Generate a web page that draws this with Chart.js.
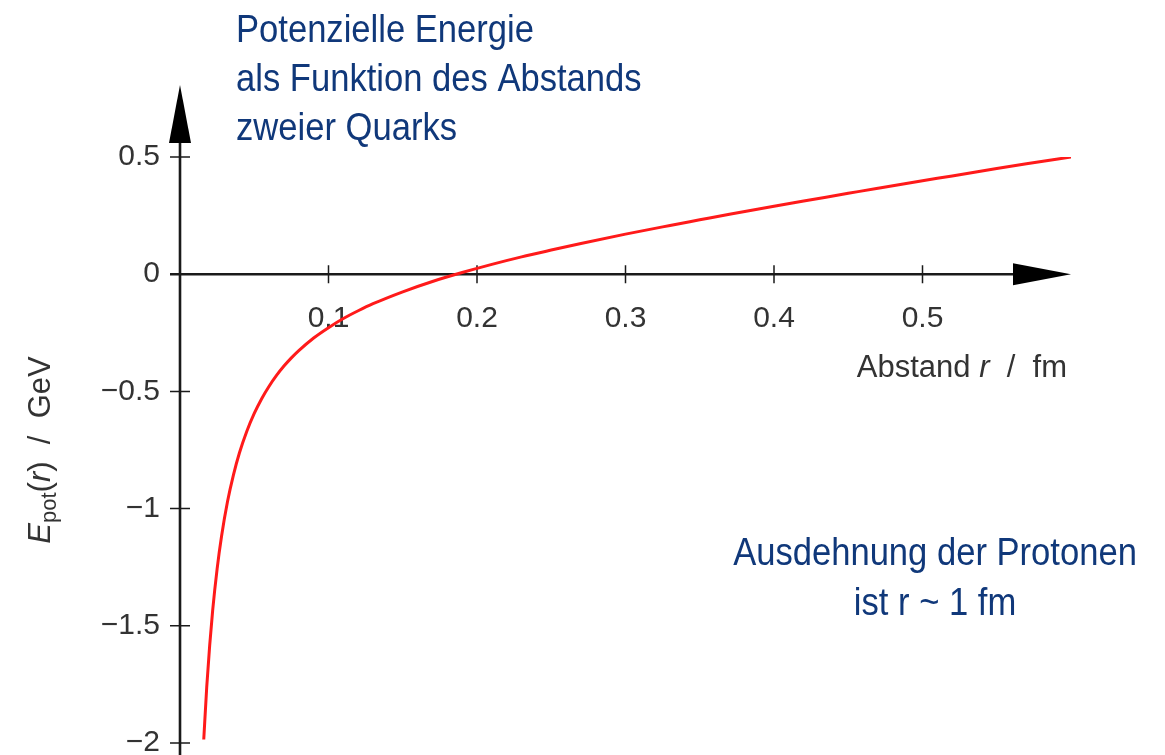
<!DOCTYPE html>
<html>
<head>
<meta charset="utf-8">
<script src="https://cdn.jsdelivr.net/npm/chart.js@4.4.0/dist/chart.umd.min.js"></script>
<style>
  html, body { margin:0; padding:0; background:#fff; }
  #chart { display:block; }
</style>
</head>
<body>
<canvas id="chart" width="1165" height="755"></canvas>
<script>
// distance r in fm, potential energy in GeV
const rValues = [0.016, 0.018, 0.02, 0.022, 0.025, 0.028, 0.032, 0.036, 0.04, 0.045, 0.05, 0.055,
                 0.06, 0.065, 0.07, 0.075, 0.08, 0.09, 0.1, 0.11, 0.12, 0.13, 0.15, 0.17,
                 0.19, 0.21, 0.23, 0.25, 0.27, 0.3, 0.33, 0.35, 0.37, 0.4, 0.42, 0.45,
                 0.47, 0.5, 0.52, 0.55, 0.57, 0.6];
const ePot    = [-1.985, -1.761, -1.582, -1.434, -1.257, -1.117, -0.970, -0.856, -0.763, -0.670, -0.594, -0.531,
                 -0.478, -0.432, -0.392, -0.357, -0.326, -0.272, -0.228, -0.189, -0.156, -0.126, -0.075, -0.031,
                 0.007, 0.042, 0.074, 0.103, 0.131, 0.171, 0.208, 0.232, 0.256, 0.290, 0.312, 0.345,
                 0.367, 0.399, 0.419, 0.451, 0.471, 0.50];

const xTickValues = [0.1, 0.2, 0.3, 0.4, 0.5];
const xTickLabels = ['0.1', '0.2', '0.3', '0.4', '0.5'];
const yTickValues = [-2, -1.5, -1, -0.5, 0, 0.5];
const yTickLabels = ['\u22122', '\u22121.5', '\u22121', '\u22120.5', '0', '0.5'];

const titleLines = ['Potenzielle Energie', 'als Funktion des Abstands', 'zweier Quarks'];
const noteLines  = ['Ausdehnung der Protonen', 'ist r ~ 1 fm'];

const AXIS_COLOR = '#1a1a1a';
const TEXT_COLOR = '#333';
const BLUE = '#10387a';
const SANS = '"Liberation Sans", Arial, sans-serif';

// axis lines, crossing ticks and arrow heads, under the curve
const axesPlugin = {
  id:'axes',
  beforeDatasetsDraw(chart){
    const {ctx, scales:{x, y}} = chart;
    const x0 = x.getPixelForValue(0), y0 = y.getPixelForValue(0);
    ctx.save();
    ctx.strokeStyle = AXIS_COLOR;
    ctx.lineWidth = 2.6;
    ctx.beginPath();
    ctx.moveTo(x0, chart.height); ctx.lineTo(x0, 140);
    ctx.moveTo(x0 - 10, y0); ctx.lineTo(1015, y0);
    ctx.stroke();

    ctx.lineWidth = 1.5;
    ctx.beginPath();
    xTickValues.forEach(v => {
      const px = x.getPixelForValue(v);
      ctx.moveTo(px, y0 - 9); ctx.lineTo(px, y0 + 9);
    });
    yTickValues.forEach(v => {
      const py = y.getPixelForValue(v);
      ctx.moveTo(x0 - 10, py); ctx.lineTo(x0 + 10, py);
    });
    ctx.stroke();

    ctx.fillStyle = '#000';
    ctx.beginPath();
    ctx.moveTo(x0 - 11, 143); ctx.lineTo(x0 + 11, 143); ctx.lineTo(x0, 85);
    ctx.closePath(); ctx.fill();
    ctx.beginPath();
    ctx.moveTo(1013, y0 - 11); ctx.lineTo(1013, y0 + 11); ctx.lineTo(1071, y0);
    ctx.closePath(); ctx.fill();
    ctx.restore();
  }
};

// axis titles and the blue annotations
const textPlugin = {
  id:'texts',
  afterDraw(chart){
    const ctx = chart.ctx;
    ctx.save();

    // x axis title, right aligned
    ctx.fillStyle = TEXT_COLOR;
    ctx.textBaseline = 'alphabetic';
    const parts = [
      {t:'Abstand ', f:'31px ' + SANS},
      {t:'r', f:'italic 31px ' + SANS},
      {t:'  /  fm', f:'31px ' + SANS}
    ];
    let w = 0;
    parts.forEach(p => { ctx.font = p.f; w += ctx.measureText(p.t).width; });
    let cx = 1067 - w;
    parts.forEach(p => { ctx.font = p.f; ctx.fillText(p.t, cx, 377); cx += ctx.measureText(p.t).width; });

    // y axis title, rotated
    ctx.save();
    ctx.translate(50, 450);
    ctx.rotate(-Math.PI / 2);
    const yparts = [
      {t:'E', f:'italic 31px ' + SANS, dy:0},
      {t:'pot', f:'22px ' + SANS, dy:6},
      {t:'(', f:'31px ' + SANS, dy:0},
      {t:'r', f:'italic 31px ' + SANS, dy:0},
      {t:')  /  GeV', f:'31px ' + SANS, dy:0}
    ];
    w = 0;
    yparts.forEach(p => { ctx.font = p.f; w += ctx.measureText(p.t).width; });
    cx = -w / 2;
    yparts.forEach(p => { ctx.font = p.f; ctx.fillText(p.t, cx, p.dy); cx += ctx.measureText(p.t).width; });
    ctx.restore();

    // blue texts, slightly condensed
    ctx.fillStyle = BLUE;
    ctx.font = '38px ' + SANS;
    titleLines.forEach((line, i) => {
      ctx.save();
      ctx.translate(236, 42 + i * 49);
      ctx.scale(0.91, 1);
      ctx.textAlign = 'left';
      ctx.fillText(line, 0, 0);
      ctx.restore();
    });
    noteLines.forEach((line, i) => {
      ctx.save();
      ctx.translate(935, 565 + i * 50);
      ctx.scale(0.91, 1);
      ctx.textAlign = 'center';
      ctx.fillText(line, 0, 0);
      ctx.restore();
    });
    ctx.restore();
  }
};

new Chart(document.getElementById('chart'), {
  type:'scatter',
  data:{
    datasets:[{
      data: rValues.map((r, i) => ({x:r, y:ePot[i]})),
      showLine:true,
      borderColor:'#ff1a1a',
      borderWidth:3,
      pointRadius:0,
      cubicInterpolationMode:'monotone',
      fill:false
    }]
  },
  options:{
    responsive:false,
    animation:false,
    events:[],
    layout:{ padding:{ top:157, bottom:12, left:0, right:94 } },
    plugins:{ legend:{ display:false }, tooltip:{ enabled:false } },
    scales:{
      x:{
        type:'linear',
        position:{ y:0 },
        min:0, max:0.6,
        afterFit: s => { s.height = 0; },
        afterBuildTicks: s => { s.ticks = xTickValues.map(v => ({value:v})); },
        ticks:{
          padding:27,
          color:TEXT_COLOR,
          font:{ family:SANS, size:30 },
          maxRotation:0,
          callback:(v, i) => xTickLabels[i]
        },
        grid:{ display:false, drawTicks:false },
        border:{ display:false }
      },
      y:{
        type:'linear',
        min:-2, max:0.5,
        afterFit: s => { s.width = 180; s.paddingTop = 0; s.paddingBottom = 0; },
        afterBuildTicks: s => { s.ticks = yTickValues.map(v => ({value:v})); },
        ticks:{
          padding:20,
          color:TEXT_COLOR,
          font:{ family:SANS, size:30 },
          callback:(v, i) => yTickLabels[i]
        },
        grid:{ display:false, drawTicks:false },
        border:{ display:false }
      }
    }
  },
  plugins:[axesPlugin, textPlugin]
});
</script>
</body>
</html>
